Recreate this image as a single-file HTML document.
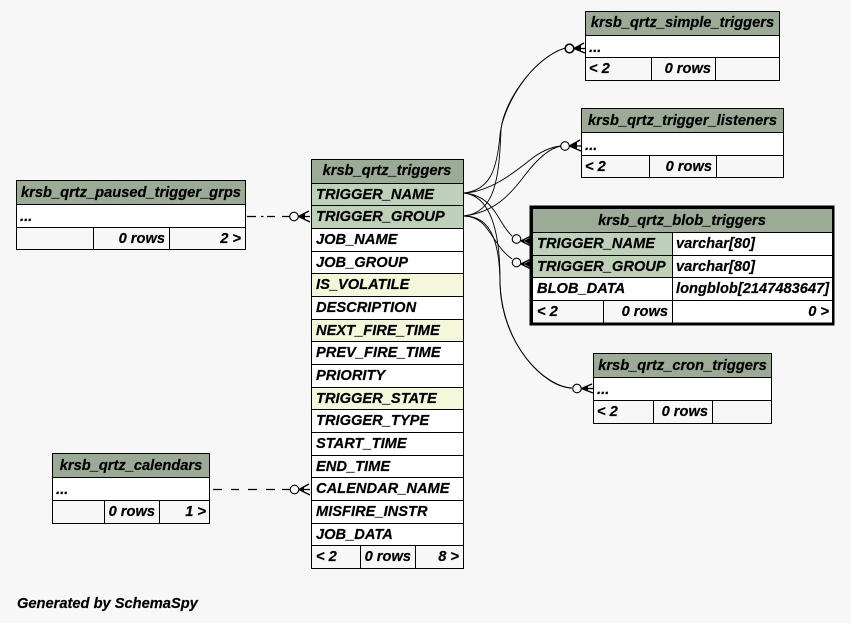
<!DOCTYPE html>
<html><head><meta charset="utf-8"><style>
html,body{margin:0;padding:0;background:#f7f7f7;width:851px;height:623px;overflow:hidden}
svg{display:block}
text{font-family:"Liberation Sans",sans-serif;font-weight:bold;font-style:italic;font-size:14.67px;fill:#000;stroke:#000;stroke-width:.2}
.m{text-anchor:middle}.e{text-anchor:end}
.l{stroke:#000;stroke-width:1;fill:none}
.c{stroke:#000;stroke-width:.9;fill:none}
.h{fill:#9bab96}.k{fill:#bed1b8}.i{fill:#f4f7da}.w{fill:#fff}
</style></head><body>
<svg width="851" height="623" viewBox="0 0 851 623" xmlns="http://www.w3.org/2000/svg">
<rect width="851" height="623" fill="#f7f7f7"/>

<!-- connectors -->
<g class="c">
<path d="M464 193C490 190 497 170 500 135C503 105 532 58 565 48"/>
<path d="M464 216C495 212 499 180 501 130C503 104 532 59 565 48"/>
<path d="M464 193C490 192 515 172 530 160C540 152 550 147 561 146"/>
<path d="M464 216C495 212 510 195 525 175C538 158 550 148 561 146"/>
<path d="M464 193C495 196 497 222 512 236"/>
<path d="M464 216C490 217 490 243 512 259"/>
<path d="M464 193C490 196 500 230 500 280C501 345 545 388 572 388"/>
<path d="M464 216C490 216 500 240 500 285C502 345 545 387 572 388"/>
</g>
<g stroke="#000" stroke-width="1.2">
<path d="M247 216.5h9M261 216.5h2.5M267 216.5h8M282 216.5h8"/>
<path d="M213 489.5h9M231 489.5h8M248 489.5h9M266 489.5h9M282 489.5h8"/>
</g>

<!-- crow's feet -->
<g fill="none" stroke="#000" stroke-width="1.3">
<circle cx="569.5" cy="48.5" r="4.3" stroke-width="1.6"/><path d="M574 48.5L584 43M574 48.5H585M574 48.5L585 53"/>
<circle cx="565" cy="146" r="4.3" stroke-width="1.1"/><path d="M569.5 146L580 140M569.5 146H581M569.5 146L581 151"/>
<circle cx="516.5" cy="239" r="4.3" stroke-width="1.1"/><path d="M521 241L531 236M521 241H531M521 241L531 246"/>
<circle cx="516.5" cy="262.5" r="4.3" stroke-width="1.1"/><path d="M521 264L531 259M521 264H531M521 264L531 269"/>
<circle cx="577" cy="388.5" r="4.3" stroke-width="1.1"/><path d="M581.5 388.5L592 384M581.5 388.5H593M581.5 388.5L593 393"/>
<circle cx="294" cy="216.5" r="4.3" stroke-width="1.1"/><path d="M298.5 216.5L309 211M298.5 216.5H310M298.5 216.5L310 222"/>
<circle cx="294.5" cy="489.5" r="4.3" stroke-width="1.1"/><path d="M299 489.5L309 484M299 489.5H310M299 489.5L310 495"/>
</g>
<g fill="#000">
<path d="M573 48.5L581 44.5V50.5Z"/>
<path d="M569 146L577 142V148.5Z"/>
<path d="M524 241L531 237V245Z"/>
<path d="M524 264L531 260V268Z"/>
<path d="M581 388.5L588 386V390.5Z"/>
<path d="M298 216.5L305 213V220Z"/>
<path d="M299 489.5L304 487V492Z"/>
</g>

<!-- simple_triggers -->
<rect class="h" x="585.5" y="11.5" width="194" height="24"/>
<rect class="w" x="585.5" y="35.5" width="194" height="22"/>
<rect class="l" x="585.5" y="11.5" width="194" height="69"/>
<path class="l" d="M585.5 35.5H779.5M585.5 57.5H779.5M651.5 57.5V80.5M715.5 57.5V80.5"/>
<text class="m" x="682.5" y="27">krsb_qrtz_simple_triggers</text>
<text x="589" y="52">...</text>
<text x="589" y="73">&lt; 2</text>
<text class="e" x="711" y="73">0 rows</text>

<!-- trigger_listeners -->
<rect class="h" x="581.5" y="108.5" width="202" height="24"/>
<rect class="w" x="581.5" y="132.5" width="202" height="23"/>
<rect class="l" x="581.5" y="108.5" width="202" height="69"/>
<path class="l" d="M581.5 132.5H783.5M581.5 155.5H783.5M649.5 155.5V177.5M716.5 155.5V177.5"/>
<text class="m" x="682.5" y="125">krsb_qrtz_trigger_listeners</text>
<text x="585" y="150">...</text>
<text x="585" y="171">&lt; 2</text>
<text class="e" x="712" y="171">0 rows</text>

<!-- blob_triggers -->
<rect x="529.5" y="205.5" width="305" height="120" fill="#000"/>
<rect class="h" x="533" y="209" width="299" height="23"/>
<rect class="k" x="533" y="232" width="139.5" height="45"/>
<rect class="w" x="672.5" y="232" width="159.5" height="45"/>
<rect class="w" x="533" y="277" width="299" height="23"/>
<rect fill="#f7f7f7" x="533" y="300" width="139.5" height="22.5"/>
<rect class="w" x="672.5" y="300" width="159.5" height="22.5"/>
<path class="l" d="M533 232.5H832M533 255.5H832M533 277.5H832M533 300.5H832M672.5 232V322.5M603.5 300V322.5"/>
<text class="m" x="682" y="225">krsb_qrtz_blob_triggers</text>
<text x="537" y="248">TRIGGER_NAME</text>
<text x="676" y="248">varchar[80]</text>
<text x="537" y="271">TRIGGER_GROUP</text>
<text x="676" y="271">varchar[80]</text>
<text x="537" y="293">BLOB_DATA</text>
<text x="676" y="293">longblob[2147483647]</text>
<text x="537" y="316">&lt; 2</text>
<text class="e" x="668" y="316">0 rows</text>
<text class="e" x="829" y="316">0 &gt;</text>

<!-- cron_triggers -->
<rect class="h" x="593.5" y="353.5" width="178" height="24"/>
<rect class="w" x="593.5" y="377.5" width="178" height="23"/>
<rect class="l" x="593.5" y="353.5" width="178" height="70"/>
<path class="l" d="M593.5 377.5H771.5M593.5 400.5H771.5M653.5 400.5V423.5M712.5 400.5V423.5"/>
<text class="m" x="682.5" y="370">krsb_qrtz_cron_triggers</text>
<text x="597" y="394">...</text>
<text x="597" y="416">&lt; 2</text>
<text class="e" x="708" y="416">0 rows</text>

<!-- paused_trigger_grps -->
<rect class="h" x="16.5" y="180.5" width="229" height="24"/>
<rect class="w" x="16.5" y="204.5" width="229" height="23"/>
<rect class="l" x="16.5" y="180.5" width="229" height="69"/>
<path class="l" d="M16.5 204.5H245.5M16.5 227.5H245.5M93.5 227.5V249.5M169.5 227.5V249.5"/>
<text class="m" x="131" y="197">krsb_qrtz_paused_trigger_grps</text>
<text x="20" y="221">...</text>
<text class="e" x="165" y="243">0 rows</text>
<text class="e" x="241" y="243">2 &gt;</text>

<!-- calendars -->
<rect class="h" x="52.5" y="453.5" width="157" height="24"/>
<rect class="w" x="52.5" y="477.5" width="157" height="23"/>
<rect class="l" x="52.5" y="453.5" width="157" height="70"/>
<path class="l" d="M52.5 477.5H209.5M52.5 500.5H209.5M104.5 500.5V523.5M159.5 500.5V523.5"/>
<text class="m" x="131" y="470">krsb_qrtz_calendars</text>
<text x="56" y="494">...</text>
<text class="e" x="155" y="516">0 rows</text>
<text class="e" x="206" y="516">1 &gt;</text>

<!-- triggers -->
<rect class="h" x="311.5" y="159.5" width="152" height="24"/>
<rect class="k" x="311.5" y="183.5" width="152" height="45"/>
<rect class="w" x="311.5" y="228.5" width="152" height="317"/>
<rect class="i" x="311.5" y="273.5" width="152" height="23"/>
<rect class="i" x="311.5" y="319.5" width="152" height="22"/>
<rect class="i" x="311.5" y="387.5" width="152" height="22"/>
<rect class="l" x="311.5" y="159.5" width="152" height="409"/>
<path class="l" d="M311.5 183.5H463.5M311.5 205.5H463.5M311.5 228.5H463.5M311.5 251.5H463.5M311.5 273.5H463.5M311.5 296.5H463.5M311.5 319.5H463.5M311.5 341.5H463.5M311.5 364.5H463.5M311.5 387.5H463.5M311.5 409.5H463.5M311.5 432.5H463.5M311.5 455.5H463.5M311.5 477.5H463.5M311.5 500.5H463.5M311.5 523.5H463.5M311.5 545.5H463.5M360.5 545.5V568.5M415.5 545.5V568.5"/>
<text class="m" x="387" y="175">krsb_qrtz_triggers</text>
<text x="316" y="199">TRIGGER_NAME</text>
<text x="316" y="221">TRIGGER_GROUP</text>
<text x="316" y="244">JOB_NAME</text>
<text x="316" y="267">JOB_GROUP</text>
<text x="316" y="289">IS_VOLATILE</text>
<text x="316" y="312">DESCRIPTION</text>
<text x="316" y="335">NEXT_FIRE_TIME</text>
<text x="316" y="357">PREV_FIRE_TIME</text>
<text x="316" y="380">PRIORITY</text>
<text x="316" y="403">TRIGGER_STATE</text>
<text x="316" y="425">TRIGGER_TYPE</text>
<text x="316" y="448">START_TIME</text>
<text x="316" y="471">END_TIME</text>
<text x="316" y="493">CALENDAR_NAME</text>
<text x="316" y="516">MISFIRE_INSTR</text>
<text x="316" y="539">JOB_DATA</text>
<text x="316" y="561">&lt; 2</text>
<text class="e" x="411" y="561">0 rows</text>
<text class="e" x="459" y="561">8 &gt;</text>

<text x="17" y="608">Generated by SchemaSpy</text>
</svg>
</body></html>
